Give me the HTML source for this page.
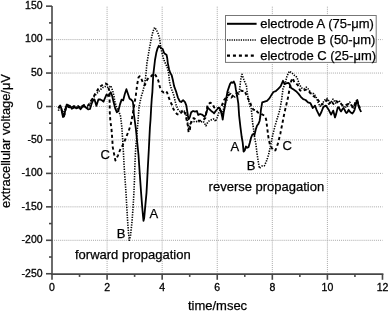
<!DOCTYPE html>
<html><head><meta charset="utf-8"><style>
html,body{margin:0;padding:0;background:#fff;width:389px;height:312px;overflow:hidden;}
svg{display:block;font-family:"Liberation Sans",sans-serif;will-change:transform;}
text{stroke:#000;stroke-width:0.25px;}
g.tl text{stroke-width:0.3px;}
</style></head><body>
<svg width="389" height="312" viewBox="0 0 389 312" font-family="Liberation Sans, sans-serif"><g stroke="#a8a8a8" stroke-width="1" stroke-dasharray="1 1.05"><line x1="107.08" y1="6.7" x2="107.08" y2="274.1"/><line x1="162.16" y1="6.7" x2="162.16" y2="274.1"/><line x1="217.24" y1="6.7" x2="217.24" y2="274.1"/><line x1="272.32" y1="6.7" x2="272.32" y2="274.1"/><line x1="327.40" y1="6.7" x2="327.40" y2="274.1"/><line x1="52.0" y1="39.60" x2="382.6" y2="39.60"/><line x1="52.0" y1="73.05" x2="382.6" y2="73.05"/><line x1="52.0" y1="106.50" x2="382.6" y2="106.50"/><line x1="52.0" y1="139.95" x2="382.6" y2="139.95"/><line x1="52.0" y1="173.40" x2="382.6" y2="173.40"/><line x1="52.0" y1="206.85" x2="382.6" y2="206.85"/><line x1="52.0" y1="240.30" x2="382.6" y2="240.30"/></g>
<polyline points="58.0,108.0 60.0,106.5 61.5,109.0 62.5,113.5 63.5,115.5 64.5,114.5 65.5,110.0 66.5,106.0 68.0,105.0 70.0,106.0 72.0,107.5 74.0,106.0 76.0,107.0 78.0,106.0 80.0,108.0 82.0,106.0 84.0,105.0 86.0,106.0 88.0,105.5 90.0,103.0 91.5,100.0 93.2,97.9 95.0,94.0 97.0,91.0 99.0,87.5 101.0,86.0 103.0,84.5 105.3,83.5 107.0,84.1 107.8,85.5 108.6,88.0 109.3,91.0 109.6,100.0 109.8,112.6 110.3,120.3 111.5,129.2 112.2,138.2 112.8,147.6 114.1,154.0 115.4,160.5 116.8,158.0 118.0,155.3 120.5,148.8 121.8,147.0 123.7,143.3 126.3,136.9 128.8,130.5 130.6,125.2 131.9,118.8 133.2,111.1 134.5,103.4 135.8,95.7 137.2,84.5 138.5,77.4 139.7,76.2 141.0,78.1 142.9,82.6 144.9,85.1 146.2,81.9 147.4,79.4 149.5,77.0 151.3,76.2 153.5,73.5 155.8,75.5 158.3,80.6 160.0,87.4 161.9,91.2 163.8,92.5 165.8,91.2 167.1,92.5 168.3,96.4 169.6,99.6 170.9,102.8 172.2,105.3 173.5,109.2 175.1,111.7 177.1,114.2 179.0,114.9 181.5,112.3 183.5,110.4 185.4,114.2 186.7,120.6 187.9,125.8 188.6,132.2 189.9,129.6 190.5,124.5 191.8,119.4 193.7,118.1 195.6,119.4 198.2,120.6 200.8,120.6 203.3,120.0 205.3,118.0 207.6,104.6 210.1,102.7 212.7,104.0 214.0,107.2 216.0,109.0 218.0,108.0 220.0,108.0 221.2,107.0 224.0,100.0 226.9,96.5 229.4,94.4 231.3,97.6 233.0,96.0 235.0,94.0 238.5,92.7 240.7,90.5 242.4,91.1 244.0,90.5 245.5,93.0 247.0,96.5 248.4,99.3 250.0,102.0 251.6,106.9 253.3,109.6 254.9,110.2 256.0,109.6 257.6,112.4 259.5,113.0 261.6,114.2 264.2,115.5 265.6,117.5 266.3,120.4 266.9,125.3 267.5,130.2 268.1,135.1 268.7,139.3 269.9,144.2 271.8,147.9 273.6,150.9 275.4,150.3 276.6,147.3 277.9,143.6 279.1,138.7 280.3,133.9 281.5,127.8 282.7,121.7 283.8,116.0 285.0,110.4 286.5,104.0 288.0,97.6 289.2,91.0 290.2,85.6 291.2,81.0 292.6,78.0 294.4,82.4 297.6,84.8 300.0,90.4 302.4,91.2 305.6,89.6 308.8,91.2 311.2,94.4 314.4,96.8 316.8,98.4 319.2,101.6 321.6,104.8 324.8,102.4 327.0,100.0 329.0,104.0 331.0,101.0 333.5,104.0 336.0,101.0 338.5,103.0 341.0,104.0 343.5,106.0 346.0,105.0 348.5,104.0 351.0,105.0 353.6,107.5 355.5,102.0 356.8,100.0 358.0,104.0 360.0,108.0" fill="none" stroke="#000" stroke-width="1.9" stroke-dasharray="3.2 2.7" stroke-linejoin="round"/>
<polyline points="58.4,110.8 60.0,106.0 62.0,110.0 63.5,114.0 65.0,109.0 66.5,105.0 68.5,106.5 70.0,107.5 72.0,106.0 74.0,108.0 76.0,106.5 78.0,107.5 80.0,106.0 82.0,107.5 84.0,106.0 86.0,107.5 88.0,107.0 90.0,104.0 91.5,100.0 93.0,98.0 95.5,95.0 97.3,93.0 98.4,91.8 100.0,90.0 101.5,88.7 103.0,87.5 105.0,86.5 107.0,87.0 108.5,87.5 109.5,87.0 110.8,85.7 112.7,90.8 114.0,96.0 114.7,101.0 116.6,107.5 118.5,111.3 120.4,115.2 121.8,126.7 122.4,135.6 123.1,146.3 123.7,157.8 124.4,170.6 125.1,180.0 126.0,192.8 126.7,205.6 127.9,225.4 129.2,240.3 130.5,235.6 131.9,222.8 132.9,210.0 133.8,195.0 134.4,181.3 134.7,170.6 135.2,157.8 135.8,146.3 136.8,136.0 137.6,126.0 138.4,116.2 139.0,107.2 140.3,100.8 141.5,95.7 142.8,91.8 144.2,85.8 145.5,78.1 146.2,71.7 146.8,64.0 148.1,56.3 149.5,48.0 151.2,39.2 152.8,32.0 154.6,27.4 156.5,30.0 158.3,34.0 159.5,38.0 160.8,47.7 162.0,52.8 163.3,58.0 164.6,61.8 165.9,64.4 167.2,67.6 168.5,72.0 169.6,82.3 170.9,87.4 172.8,92.5 174.1,96.4 175.8,104.0 177.7,109.1 180.3,111.7 182.8,110.4 185.4,111.7 186.7,116.8 187.9,124.5 188.6,128.3 189.9,125.8 190.5,123.2 192.4,121.3 195.0,121.9 197.6,121.3 200.8,121.9 203.3,121.3 205.9,125.8 207.2,123.2 209.0,121.0 211.0,120.0 213.0,119.0 214.6,119.1 215.5,121.5 217.0,118.0 218.7,113.1 220.0,110.0 221.2,110.7 222.8,113.9 224.4,104.0 225.5,102.0 226.8,100.5 227.7,95.0 229.0,92.3 231.0,94.0 233.0,96.0 235.0,97.0 237.0,95.5 238.5,94.5 239.2,93.0 239.6,89.2 240.1,85.3 240.6,80.5 241.1,77.6 242.0,74.3 243.5,78.6 244.9,82.4 246.4,85.3 246.8,89.2 247.3,93.0 248.5,100.0 250.0,106.3 251.3,108.8 251.9,115.3 252.6,123.0 253.8,130.6 254.5,137.0 255.8,143.5 256.8,151.7 258.1,160.6 259.4,168.3 262.3,165.8 264.3,165.8 266.2,161.9 267.5,158.1 268.7,154.2 271.0,143.6 272.6,135.6 275.0,126.0 277.4,118.0 279.8,110.0 281.6,100.0 283.0,88.8 285.4,82.4 287.0,76.0 289.4,71.2 291.8,72.8 294.2,75.2 296.0,76.0 297.6,79.2 299.2,84.0 301.6,88.0 304.0,88.8 306.4,87.2 308.8,89.6 311.2,93.6 313.6,93.6 316.0,96.8 318.4,103.2 320.0,106.4 322.4,103.2 324.8,100.0 327.2,98.4 330.4,103.0 333.0,99.1 335.6,103.0 337.2,102.2 338.8,100.5 340.4,102.2 341.5,104.3 342.6,106.0 343.7,107.1 344.8,106.0 346.4,107.6 347.5,106.5 348.6,103.8 349.7,102.2 350.8,104.3 351.9,106.5 353.0,108.7 354.1,106.5 355.2,103.3 356.2,101.1 356.8,99.4 357.8,103.0 359.0,107.0 360.3,109.0" fill="none" stroke="#000" stroke-width="1.6" stroke-dasharray="1.3 1.25" stroke-linejoin="round"/>
<polyline points="58.8,106.9 60.3,105.5 61.3,108.3 62.2,113.5 63.0,117.0 64.0,116.5 65.1,111.2 66.1,106.4 67.0,104.5 68.0,106.9 69.4,107.4 70.4,106.4 71.8,108.8 73.3,107.9 74.7,106.9 76.2,108.3 77.6,107.9 79.0,106.9 80.5,109.3 81.9,107.4 83.8,105.5 85.8,107.5 88.4,109.4 90.0,109.0 91.5,104.0 93.2,100.1 94.5,99.4 96.4,105.8 98.4,99.4 100.3,99.5 102.2,100.5 103.5,101.7 105.0,98.0 106.5,94.5 108.2,96.0 110.7,92.2 112.2,96.0 113.6,102.0 115.2,108.4 116.8,112.2 118.4,110.8 120.0,104.4 121.6,99.6 123.2,100.4 124.8,94.0 126.4,89.2 128.0,94.0 129.6,98.8 131.2,99.6 132.8,101.5 133.4,106.0 133.8,113.6 134.8,121.0 135.9,129.2 137.2,142.0 138.5,155.0 139.5,170.0 140.2,180.0 141.1,192.8 142.1,205.6 143.0,216.0 143.5,220.8 144.2,218.0 145.3,205.6 146.5,192.8 147.2,180.0 147.8,168.0 148.8,150.0 149.9,127.7 150.5,120.0 151.2,107.2 151.8,98.3 152.4,91.8 153.2,75.5 155.0,60.0 156.3,52.8 157.6,48.3 158.8,45.8 160.1,47.1 161.4,48.3 162.7,49.0 164.0,52.8 165.3,54.1 166.5,54.7 167.2,58.0 167.8,63.1 169.1,69.5 170.4,73.3 171.6,75.0 172.8,79.7 174.1,86.1 176.0,91.2 177.9,97.6 179.9,101.5 181.2,102.0 183.1,100.2 185.0,102.1 186.3,105.3 187.2,111.0 187.9,115.5 188.6,119.4 189.9,116.8 191.2,112.3 193.1,111.0 195.0,111.7 196.9,111.0 198.2,115.0 200.1,114.0 201.9,114.6 203.0,115.3 204.4,116.7 205.9,114.8 207.3,109.5 208.3,108.0 209.7,109.5 211.2,110.9 212.6,111.9 214.1,113.3 215.0,111.9 216.5,110.0 217.9,108.5 219.4,107.6 220.3,109.5 221.3,112.9 222.3,117.2 222.7,119.5 223.2,116.2 223.7,112.4 224.7,107.6 225.9,100.5 227.4,91.8 228.7,87.9 230.0,84.1 231.3,82.2 232.6,82.8 233.8,81.5 235.1,84.7 235.8,89.2 237.1,95.6 238.3,103.3 239.1,115.3 240.4,126.8 241.7,137.0 242.7,142.7 243.6,151.7 244.7,150.4 245.9,146.5 247.2,147.8 248.5,147.2 249.8,142.7 251.1,137.6 252.4,134.5 253.4,134.0 254.5,135.1 255.8,129.4 257.1,125.5 258.3,124.2 259.6,121.0 260.3,116.5 260.9,110.1 262.2,102.4 264.6,101.6 267.0,100.8 269.4,98.4 271.8,94.4 273.4,92.0 275.8,91.2 278.2,88.8 280.6,86.4 283.0,80.8 284.6,84.0 287.0,83.2 288.5,83.0 289.6,84.0 291.2,88.0 293.6,89.6 296.0,91.2 298.4,93.6 300.8,96.8 303.2,99.2 305.6,100.0 308.0,102.4 310.4,103.2 312.8,108.0 315.0,105.6 316.9,110.7 319.5,115.8 321.4,112.0 323.4,106.9 325.9,105.6 328.5,109.4 331.1,114.6 333.2,110.6 335.0,117.4 336.1,114.1 337.7,107.6 338.8,107.1 339.9,109.8 341.0,111.4 342.1,109.8 343.2,108.2 344.3,109.2 345.3,111.4 346.4,113.1 347.5,112.0 348.6,109.8 349.7,111.4 350.8,112.5 352.4,113.6 353.5,112.0 354.6,109.8 355.7,105.4 356.8,101.1 357.3,100.0 357.9,102.2 358.4,105.4 359.5,108.7 360.6,110.9 361.1,112.0" fill="none" stroke="#000" stroke-width="1.8" stroke-linejoin="round"/>
<g stroke="#474747" stroke-width="1.6"><line x1="52.0" y1="6.1" x2="52.0" y2="274.90000000000003"/><line x1="51.2" y1="274.1" x2="383.40000000000003" y2="274.1"/><line x1="46.0" y1="6.15" x2="52.0" y2="6.15"/><line x1="46.0" y1="39.60" x2="52.0" y2="39.60"/><line x1="46.0" y1="73.05" x2="52.0" y2="73.05"/><line x1="46.0" y1="106.50" x2="52.0" y2="106.50"/><line x1="46.0" y1="139.95" x2="52.0" y2="139.95"/><line x1="46.0" y1="173.40" x2="52.0" y2="173.40"/><line x1="46.0" y1="206.85" x2="52.0" y2="206.85"/><line x1="46.0" y1="240.30" x2="52.0" y2="240.30"/><line x1="46.0" y1="273.75" x2="52.0" y2="273.75"/><line x1="49.0" y1="22.88" x2="52.0" y2="22.88"/><line x1="49.0" y1="56.32" x2="52.0" y2="56.32"/><line x1="49.0" y1="89.78" x2="52.0" y2="89.78"/><line x1="49.0" y1="123.22" x2="52.0" y2="123.22"/><line x1="49.0" y1="156.68" x2="52.0" y2="156.68"/><line x1="49.0" y1="190.12" x2="52.0" y2="190.12"/><line x1="49.0" y1="223.57" x2="52.0" y2="223.57"/><line x1="49.0" y1="257.02" x2="52.0" y2="257.02"/><line x1="52.00" y1="274.1" x2="52.00" y2="279.8"/><line x1="107.08" y1="274.1" x2="107.08" y2="279.8"/><line x1="162.16" y1="274.1" x2="162.16" y2="279.8"/><line x1="217.24" y1="274.1" x2="217.24" y2="279.8"/><line x1="272.32" y1="274.1" x2="272.32" y2="279.8"/><line x1="327.40" y1="274.1" x2="327.40" y2="279.8"/><line x1="382.48" y1="274.1" x2="382.48" y2="279.8"/><line x1="79.54" y1="274.1" x2="79.54" y2="276.90000000000003"/><line x1="134.62" y1="274.1" x2="134.62" y2="276.90000000000003"/><line x1="189.70" y1="274.1" x2="189.70" y2="276.90000000000003"/><line x1="244.78" y1="274.1" x2="244.78" y2="276.90000000000003"/><line x1="299.86" y1="274.1" x2="299.86" y2="276.90000000000003"/><line x1="354.94" y1="274.1" x2="354.94" y2="276.90000000000003"/></g>
<g class="tl" font-size="10.5" fill="#000"><text x="42.6" y="8.90" text-anchor="end">150</text><text x="42.6" y="42.35" text-anchor="end">100</text><text x="42.6" y="75.80" text-anchor="end">50</text><text x="42.6" y="109.25" text-anchor="end">0</text><text x="42.6" y="142.70" text-anchor="end">-50</text><text x="42.6" y="176.15" text-anchor="end">-100</text><text x="42.6" y="209.60" text-anchor="end">-150</text><text x="42.6" y="243.05" text-anchor="end">-200</text><text x="42.6" y="276.50" text-anchor="end">-250</text><text x="52.00" y="290.8" text-anchor="middle">0</text><text x="107.08" y="290.8" text-anchor="middle">2</text><text x="162.16" y="290.8" text-anchor="middle">4</text><text x="217.24" y="290.8" text-anchor="middle">6</text><text x="272.32" y="290.8" text-anchor="middle">8</text><text x="327.40" y="290.8" text-anchor="middle">10</text><text x="382.48" y="290.8" text-anchor="middle">12</text></g>
<text x="217.5" y="310.3" font-size="13" text-anchor="middle">time/msec</text>
<text transform="translate(10.3,141.0) rotate(-90)" font-size="12.85" text-anchor="middle">extracellular voltage/μV</text>
<text x="100.5" y="159.2" font-size="13">C</text>
<text x="116.8" y="237.7" font-size="13">B</text>
<text x="149.5" y="218.2" font-size="13">A</text>
<text x="230.5" y="151.1" font-size="13">A</text>
<text x="246.8" y="170.4" font-size="13">B</text>
<text x="282.6" y="150.2" font-size="13">C</text>
<text x="75.0" y="259.1" font-size="13">forward propagation</text>
<text x="208.6" y="190.9" font-size="13">reverse propagation</text>
<rect x="225.5" y="15.5" width="150.7" height="46.9" fill="#fff" stroke="#777" stroke-width="1"/><line x1="227" y1="23.8" x2="256.6" y2="23.8" stroke="#000" stroke-width="2"/><line x1="227" y1="40" x2="256.8" y2="40" stroke="#000" stroke-width="1.5" stroke-dasharray="1.2 1.1"/><line x1="227" y1="55.6" x2="254" y2="55.6" stroke="#000" stroke-width="2.2" stroke-dasharray="3 2.95"/><text x="260.2" y="28.1" font-size="13">electrode A (75-μm)</text><text x="260.2" y="43.9" font-size="13">electrode B (50-μm)</text><text x="260.2" y="59.7" font-size="13">electrode C (25-μm)</text></svg>
</body></html>
